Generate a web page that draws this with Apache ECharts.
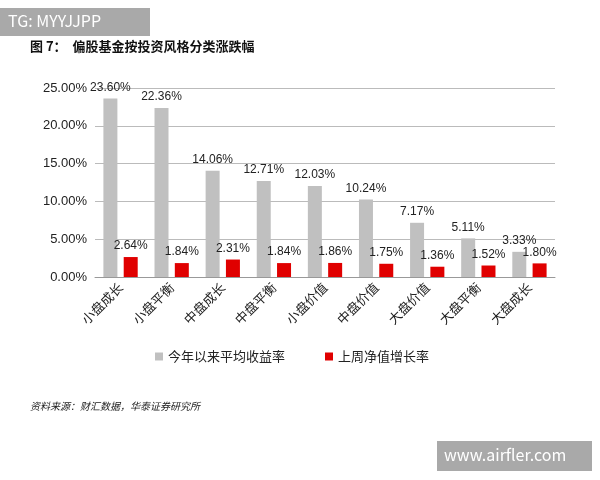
<!DOCTYPE html>
<html><head><meta charset="utf-8">
<script src="https://cdn.jsdelivr.net/npm/echarts@6/dist/echarts.min.js"></script>
<style>body{margin:0;background:#fff}#c{width:600px;height:480px}</style>
</head><body><div id="c"></div>
<script>
const categories=['小盘成长','小盘平衡','中盘成长','中盘平衡','小盘价值','中盘价值','大盘价值','大盘平衡','大盘成长'];
const ytdReturn=[23.60,22.36,14.06,12.71,12.03,10.24,7.17,5.11,3.33];
const weekReturn=[2.64,1.84,2.31,1.84,1.86,1.75,1.36,1.52,1.80];
const seriesNames=['今年以来平均收益率','上周净值增长率'];
const font='"Noto Sans CJK SC", sans-serif';
const chart=echarts.init(document.getElementById('c'));
chart.setOption({
  animation:false,
  graphic:[
    {type:'rect',left:0,top:8,shape:{width:150,height:28},style:{fill:'#a9a9a9'}},
    {type:'text',left:8,top:13,style:{text:'TG: MYYJJPP',fill:'#fff',font:'16px '+font}},
    {type:'text',left:30,top:40,style:{text:'图 7：  偏股基金按投资风格分类涨跌幅',fill:'#111',font:'bold 13px '+font}},
    {type:'text',left:30,top:401,style:{text:'资料来源：财汇数据，华泰证券研究所',fill:'#222',font:'italic 10px '+font}},
    {type:'rect',left:437,top:441,shape:{width:155,height:30},style:{fill:'#a9a9a9'}},
    {type:'text',left:444,top:447,style:{text:'www.airfler.com',fill:'#fff',font:'16px '+font}}
  ],
  legend:{bottom:112,left:150,itemWidth:8,itemHeight:8,itemGap:40,icon:'rect',
    textStyle:{fontFamily:font,fontSize:13,color:'#222'},data:seriesNames},
  grid:{left:95,right:45,top:88,bottom:203},
  xAxis:{type:'category',data:categories,
    axisLine:{lineStyle:{color:'#999'}},axisTick:{show:false},
    axisLabel:{rotate:45,fontFamily:font,fontSize:13,color:'#222',margin:8}},
  yAxis:{type:'value',min:0,max:25,interval:5,
    axisLine:{show:false},axisTick:{show:false},
    splitLine:{lineStyle:{color:'#bbb'}},
    axisLabel:{formatter:v=>v.toFixed(2)+'%',fontFamily:'"Liberation Sans", Arial',fontSize:13,color:'#222'}},
  series:[
    {name:seriesNames[0],type:'bar',data:ytdReturn,barWidth:14,barGap:'45%',itemStyle:{color:'#c0c0c0'},
     label:{show:true,position:'top',formatter:p=>p.value.toFixed(2)+'%',fontFamily:'"Liberation Sans", Arial',fontSize:12,color:'#222'}},
    {name:seriesNames[1],type:'bar',data:weekReturn,barWidth:14,itemStyle:{color:'#e00000'},
     label:{show:true,position:'top',formatter:p=>p.value.toFixed(2)+'%',fontFamily:'"Liberation Sans", Arial',fontSize:12,color:'#222'}}
  ]
});
</script></body></html>
